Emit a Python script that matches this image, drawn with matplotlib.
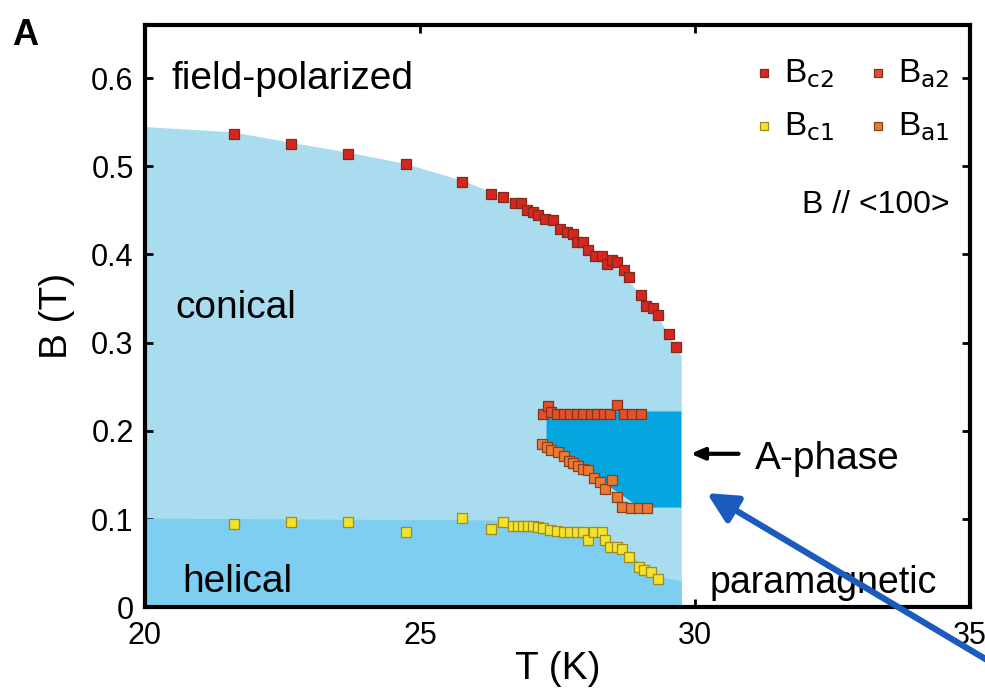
import matplotlib
matplotlib.use("Agg")
import matplotlib.pyplot as plt

plt.rcParams['font.family'] = ['Liberation Sans', 'DejaVu Sans']

# Upper critical field Bc2 (conical -> field-polarized)
Bc2_T = [21.62, 22.66, 23.70, 24.74, 25.77, 26.29, 26.51, 26.72, 26.84, 26.94, 27.06,
         27.15, 27.27, 27.42, 27.55, 27.67, 27.79, 27.85, 27.97, 28.06, 28.19, 28.31,
         28.40, 28.49, 28.58, 28.71, 28.80, 29.01, 29.10, 29.23, 29.33, 29.53, 29.65]
Bc2_B = [0.537, 0.525, 0.514, 0.502, 0.482, 0.469, 0.465, 0.458, 0.458, 0.450, 0.448,
         0.445, 0.440, 0.439, 0.429, 0.425, 0.423, 0.414, 0.414, 0.405, 0.398, 0.398,
         0.389, 0.394, 0.391, 0.382, 0.374, 0.354, 0.342, 0.339, 0.331, 0.310, 0.295]

# Upper A-phase boundary Ba2
Ba2_T = [27.24, 27.33, 27.39, 27.49, 27.61, 27.73, 27.85, 27.97, 28.10, 28.22, 28.34,
         28.46, 28.58, 28.71, 28.86, 29.02]
Ba2_B = [0.219, 0.228, 0.221, 0.219, 0.219, 0.219, 0.219, 0.219, 0.219, 0.219, 0.219,
         0.219, 0.229, 0.219, 0.219, 0.219]

# Lower A-phase boundary Ba1
Ba1_T = [27.21, 27.30, 27.39, 27.51, 27.61, 27.70, 27.79, 27.88, 27.97, 28.06, 28.16,
         28.28, 28.37, 28.49, 28.58, 28.67, 28.83, 28.98, 29.13]
Ba1_B = [0.185, 0.182, 0.178, 0.176, 0.172, 0.166, 0.163, 0.160, 0.157, 0.156, 0.146,
         0.142, 0.134, 0.144, 0.125, 0.114, 0.112, 0.112, 0.112]

# Lower critical field Bc1 (helical -> conical)
Bc1_T = [21.62, 22.66, 23.70, 24.74, 25.77, 26.29, 26.51, 26.69, 26.78, 26.87, 26.97,
         27.06, 27.15, 27.24, 27.36, 27.49, 27.61, 27.73, 27.85, 27.97, 28.06, 28.16,
         28.31, 28.37, 28.46, 28.58, 28.67, 28.80, 28.98, 29.07, 29.19, 29.32]
Bc1_B = [0.094, 0.097, 0.097, 0.085, 0.101, 0.089, 0.097, 0.092, 0.092, 0.092, 0.092,
         0.092, 0.091, 0.090, 0.088, 0.086, 0.085, 0.085, 0.085, 0.085, 0.076, 0.085,
         0.085, 0.076, 0.068, 0.068, 0.066, 0.057, 0.046, 0.042, 0.040, 0.032]

# phase region outlines
Tc = 29.75
conical_T = [20.0, 21.6, 22.66, 23.7, 24.74, 25.77, 26.5, 27.0, 27.5, 28.0, 28.5, 29.0, 29.3, 29.6, Tc]
conical_B = [0.545, 0.539, 0.527, 0.516, 0.503, 0.484, 0.466, 0.450, 0.433, 0.413, 0.390, 0.355, 0.333, 0.298, 0.285]
helical_T = [20.0, 26.3, 27.0, 27.6, 28.3, 28.7, 29.0, 29.4, Tc]
helical_B = [0.101, 0.099, 0.094, 0.088, 0.080, 0.066, 0.050, 0.034, 0.030]
aphase_T = [27.3, Tc, Tc, 29.0, 27.3]
aphase_B = [0.222, 0.222, 0.113, 0.113, 0.186]

fig = plt.figure(figsize=(9.85, 6.98), dpi=100)
ax = fig.add_axes([0.147, 0.130, 0.838, 0.834])

ax.fill_between(conical_T, 0, conical_B, color='#a9dcef', lw=0, zorder=1)
ax.fill_between(helical_T, 0, helical_B, color='#7dcef0', lw=0, zorder=2)
ax.fill(aphase_T, aphase_B, color='#05a6e0', lw=0, zorder=3)

ms = 42
ax.scatter(Bc2_T, Bc2_B, s=ms, marker='s', c='#d7261f', edgecolors='#7e2c1c', linewidths=0.9, zorder=5, label=r'B$_{\mathrm{c2}}$')
ax.scatter(Bc1_T, Bc1_B, s=ms, marker='s', c='#f3e22e', edgecolors='#a28a1e', linewidths=0.9, zorder=5, label=r'B$_{\mathrm{c1}}$')
ax.scatter(Ba2_T, Ba2_B, s=ms, marker='s', c='#e4502a', edgecolors='#83321c', linewidths=0.9, zorder=5, label=r'B$_{\mathrm{a2}}$')
ax.scatter(Ba1_T, Ba1_B, s=ms, marker='s', c='#ec7a32', edgecolors='#8a4020', linewidths=0.9, zorder=5, label=r'B$_{\mathrm{a1}}$')

leg = ax.legend(ncol=2, loc='upper right', bbox_to_anchor=(0.975, 0.945), frameon=False,
                borderaxespad=0, borderpad=0,
                fontsize=24, handletextpad=0.3, columnspacing=1.0, labelspacing=0.6,
                markerscale=0.85, handlelength=0.6)

ax.text(31.94, 0.447, 'B // <100>', fontsize=23)

# phase labels
ax.text(20.49, 0.588, 'field-polarized', fontsize=28)
ax.text(20.55, 0.328, 'conical', fontsize=28)
ax.text(20.68, 0.017, 'helical', fontsize=28)
ax.text(30.26, 0.016, 'paramagnetic', fontsize=27)
ax.text(31.08, 0.157, 'A-phase', fontsize=28)
ax.annotate('', xy=(29.87, 0.174), xytext=(30.84, 0.174),
            arrowprops=dict(arrowstyle='-|>,head_length=0.8,head_width=0.35', color='black', lw=3))

# blue pointer arrow coming in from the lower right corner
ax.annotate('', xy=(30.17, 0.131), xycoords='data', xytext=(1.005, 0.052), textcoords='figure fraction',
            arrowprops=dict(arrowstyle='-|>,head_length=1.8,head_width=0.9', color='#1b5bbd', lw=4.5),
            annotation_clip=False, zorder=10)

ax.set_xlim(20, 35)
ax.set_ylim(0, 0.66)
ax.set_xticks([20, 25, 30, 35])
ax.set_yticks([0, 0.1, 0.2, 0.3, 0.4, 0.5, 0.6])
ax.set_yticklabels(['0', '0.1', '0.2', '0.3', '0.4', '0.5', '0.6'])
ax.tick_params(direction='in', length=6, width=2, labelsize=22, top=True, right=True)
ax.tick_params(axis='x', pad=10)
ax.tick_params(axis='y', pad=8)
for sp in ax.spines.values():
    sp.set_linewidth(3)
    sp.set_zorder(6)

ax.set_xlabel('T (K)', fontsize=28, labelpad=0)
ax.set_ylabel('B (T)', fontsize=28, labelpad=12)

fig.text(0.012, 0.935, 'A', fontsize=26, fontweight='bold')

fig.savefig('out.png', dpi=100)
